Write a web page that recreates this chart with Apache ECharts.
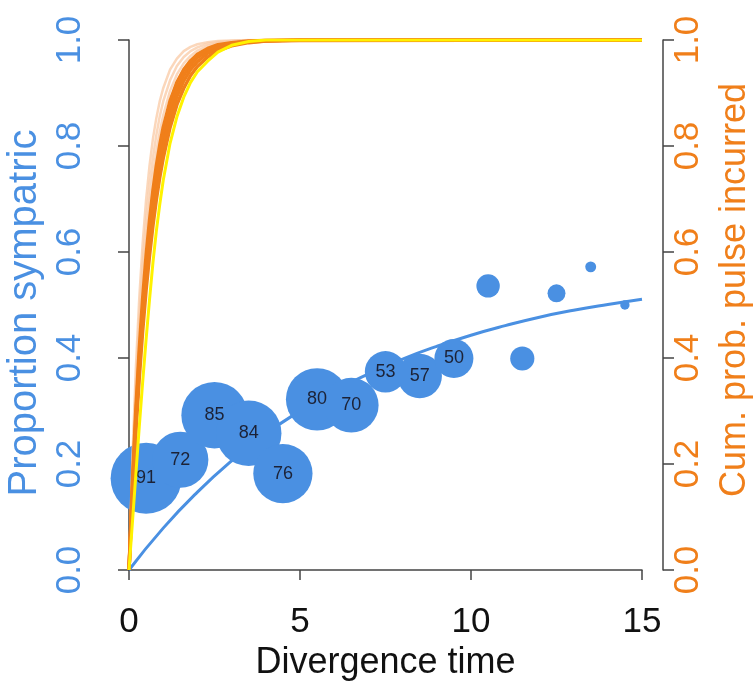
<!DOCTYPE html>
<html>
<head>
<meta charset="utf-8">
<script src="https://cdn.jsdelivr.net/npm/echarts@6/dist/echarts.min.js"></script>
<style>
  html, body { margin: 0; padding: 0; background: #fff; }
  #chart { width: 755px; height: 683px; }
</style>
</head>
<body>
<div id="chart"></div>
<script>
// bubbles: divergence time bins, proportion sympatric, number of pairs
const divTime = [0.5, 1.5, 2.5, 3.5, 4.5, 5.5, 6.5, 7.5, 8.5, 9.5, 10.5, 11.5, 12.5, 13.5, 14.5];
const propSym = [0.173, 0.208, 0.292, 0.258, 0.182, 0.322, 0.311, 0.374, 0.366, 0.399, 0.536, 0.399, 0.522, 0.572, 0.50];
const nPairs = [91, 72, 85, 84, 76, 80, 70, 53, 57, 50, 30, 31, 23, 14, 12];

// fitted curve through the bubbles
const fitT = [0, 1, 2, 3, 4, 5, 6, 7, 8, 9, 10, 11, 12, 13, 14, 15];
const fitY = [0, 0.079, 0.147, 0.206, 0.257, 0.300, 0.338, 0.370, 0.398, 0.422, 0.443, 0.461, 0.477, 0.490, 0.501, 0.511];

// cumulative probability of pulse curves (right axis)
const tGrid = [0, 0.1, 0.2, 0.3, 0.4, 0.5, 0.6, 0.7, 0.8, 0.9, 1.0, 1.2, 1.4, 1.6, 1.8, 2.0, 2.3, 2.6, 3.0, 3.5, 4.0, 5, 15];
const lightCurves = [
  [0, .213, .381, .513, .617, .699, .763, .814, .853, .885, .909, .944, .965, .979, .987, .992, .996, .998, .999, 1, 1, 1, 1],
  [0, .194, .350, .475, .577, .659, .725, .778, .821, .856, .884, .924, .951, .968, .979, .986, .993, .996, .998, 1, 1, 1, 1],
  [0, .177, .323, .443, .542, .623, .690, .745, .790, .827, .858, .904, .935, .956, .970, .980, .989, .994, .997, .999, 1, 1, 1]
];
const darkCurves = [
  [0, .165, .302, .417, .513, .593, .660, .716, .763, .802, .835, .885, .920, .944, .961, .973, .984, .991, .995, .998, .999, 1, 1],
  [0, .156, .288, .400, .493, .573, .639, .696, .743, .783, .817, .870, .907, .934, .953, .967, .980, .988, .994, .997, .999, 1, 1],
  [0, .148, .274, .381, .473, .551, .617, .674, .722, .763, .798, .853, .894, .923, .944, .959, .975, .984, .992, .996, .998, 1, 1],
  [0, .139, .259, .362, .451, .528, .593, .650, .699, .741, .777, .835, .878, .909, .933, .950, .968, .980, .989, .995, .998, .999, 1]
];
const yellowCurve = [0, .09, .18, .27, .355, .435, .51, .58, .64, .69, .735, .805, .855, .892, .92, .94, .96, .977, .99, .997, 1, 1, 1];

const xTicks = [0, 5, 10, 15];
const yTicks = [0, 0.2, 0.4, 0.6, 0.8, 1];

const BLUE = '#4a90e2';
const ORANGE = '#f07f1a';
const FONT = 'Liberation Sans, Arial, sans-serif';

function pairs(xs, ys) {
  return xs.map(function (x, i) { return [x, ys[i]]; });
}

function curveSeries(ys, color, width, opacity) {
  return {
    type: 'line',
    yAxisIndex: 1,
    data: pairs(tGrid, ys),
    showSymbol: false,
    silent: true,
    z: 5,
    lineStyle: { color: color, width: width, opacity: opacity, join: 'round' }
  };
}

var chartDom = document.getElementById('chart');
var myChart = echarts.init(chartDom);
var option;

var series = [
  {
    type: 'line',
    data: pairs(fitT, fitY),
    smooth: true,
    showSymbol: false,
    z: 2,
    lineStyle: { color: BLUE, width: 3 }
  },
  {
    type: 'scatter',
    data: divTime.map(function (x, i) { return [x, propSym[i], nPairs[i]]; }),
    symbolSize: function (d) { return d[2] * 0.78; },
    z: 3,
    itemStyle: { color: BLUE, opacity: 1 },
    label: {
      show: true,
      position: 'inside',
      color: '#1c2236',
      fontFamily: FONT,
      fontSize: 18,
      formatter: function (p) { return p.value[2] >= 50 ? String(p.value[2]) : ''; }
    }
  }
];
lightCurves.forEach(function (c) { series.push(curveSeries(c, '#f9c9a4', 2.5, 0.75)); });
darkCurves.forEach(function (c) { series.push(curveSeries(c, ORANGE, 3.5, 1)); });
series.push(curveSeries(yellowCurve, '#fff200', 3, 1));

function yAxis(color, margin, name, nameGap, nameSize, namePad) {
  return {
    type: 'value',
    min: 0,
    max: 1,
    interval: 0.2,
    offset: 21,
    name: name,
    nameLocation: 'middle',
    nameRotate: 90,
    nameGap: nameGap,
    nameTextStyle: { color: color, fontSize: nameSize, fontFamily: FONT, padding: namePad },
    splitLine: { show: false },
    axisLine: { show: true, lineStyle: { color: '#444', width: 1.5 } },
    axisTick: { show: true, length: 11, lineStyle: { color: '#444', width: 1.5 } },
    axisLabel: {
      rotate: 90,
      margin: margin,
      color: color,
      fontSize: 35,
      fontFamily: FONT,
      formatter: function (v) { return yTicks.indexOf(+v.toFixed(1)) >= 0 ? v.toFixed(1) : ''; }
    }
  };
}

option = {
  backgroundColor: '#fff',
  animation: false,
  grid: { left: 129, right: 113, top: 40, bottom: 113, outerBoundsMode: 'none' },
  xAxis: {
    type: 'value',
    min: 0,
    max: 15,
    interval: 5,
    offset: 27,
    name: 'Divergence time',
    nameLocation: 'middle',
    nameGap: 45,
    nameTextStyle: { color: '#111', fontSize: 36, fontFamily: FONT },
    splitLine: { show: false },
    axisLine: { show: true, lineStyle: { color: '#444', width: 1.5 } },
    axisTick: { show: true, length: 10, lineStyle: { color: '#444', width: 1.5 } },
    axisLabel: {
      margin: 8,
      color: '#111',
      fontSize: 35,
      fontFamily: FONT,
      formatter: function (v) { return xTicks.indexOf(v) >= 0 ? String(v) : ''; }
    }
  },
  yAxis: [
    yAxis(BLUE, 20, 'Proportion sympatric', 58, 40, [0, 16, 0, 0]),
    yAxis(ORANGE, 8, 'Cum. prob. pulse incurred', 54, 36, [0, 0, 0, 30])
  ],
  series: series
};

option && myChart.setOption(option);
</script>
</body>
</html>
